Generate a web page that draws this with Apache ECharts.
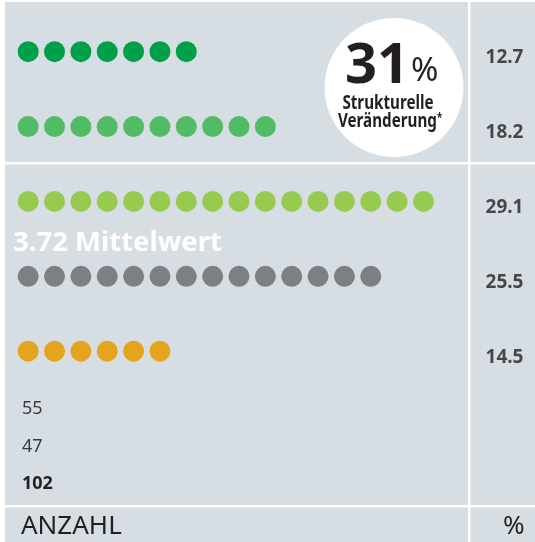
<!DOCTYPE html>
<html>
<head>
<meta charset="utf-8">
<script src="https://cdn.jsdelivr.net/npm/echarts@6/dist/echarts.min.js"></script>
<style>
  html, body { margin: 0; padding: 0; background: #fff; }
  #chart { width: 535px; height: 542px; }
</style>
</head>
<body>
<div id="chart"></div>
<script>
// dots per row and the share in percent
const dotCounts = [7, 10, 16, 14, 6]
const percents = ['12.7', '18.2', '29.1', '25.5', '14.5']
const rowColors = ['#00a04b', '#52bb66', '#97cb4f', '#7e7f83', '#e4a41d']
const anzahl = ['55', '47', '102']
const mittelwert = '3.72'
const strukturell = '31'

const FONT = '"Noto Sans", sans-serif'
const PANEL = '#d6dde3'
const TEXT = '#231f20'

const chart = echarts.init(document.getElementById('chart'))

const dotSeries = dotCounts.map((n, row) => ({
  type: 'scatter',
  xAxisIndex: 0,
  yAxisIndex: 0,
  symbolSize: 21,
  itemStyle: { color: rowColors[row], opacity: 1 },
  silent: true,
  data: Array.from({ length: n }, (_, i) => [i, row])
}))

const pctSeries = {
  type: 'scatter',
  xAxisIndex: 1,
  yAxisIndex: 1,
  symbolSize: 1,
  itemStyle: { color: 'transparent' },
  label: {
    show: true,
    position: 'inside',
    offset: [2, 6],
    formatter: (p) => percents[p.dataIndex],
    fontFamily: FONT,
    fontWeight: 'bold',
    fontSize: 19,
    color: TEXT
  },
  data: percents.map((_, row) => [0.5, row])
}

const panels = [
  [5, 2, 463, 160], [470.5, 2, 65, 160],
  [5, 164.5, 463, 340.5], [470.5, 164.5, 65, 340.5],
  [5, 507.5, 463, 40], [470.5, 507.5, 65, 40]
].map(([x, y, w, h]) => ({
  type: 'rect', z: -10, silent: true,
  shape: { x, y, width: w, height: h },
  style: { fill: PANEL }
}))

// helper for plain text placed by its left/middle point
const txt = (x, y, text, size, extra) => ({
  type: 'text', x, y, z: 6, silent: true,
  style: Object.assign({
    text, fontFamily: FONT, fontSize: size, fill: TEXT,
    verticalAlign: 'middle'
  }, extra || {})
})

const counts = anzahl.map((t, i) => txt(22, 409 + i * 37.5, t, 18, {
  fontWeight: i === 2 ? 'bold' : 'normal',
  fill: i === 2 ? TEXT : '#3a3a3c'
}))

// the circle's caption is set in a condensed cut
const sub1 = txt(388, 104, 'Strukturelle', 19, { fontWeight: 'bold', align: 'center' })
sub1.scaleX = 0.8
const sub2 = txt(390, 122, '{a|Veränderung}{s|*}', 19, {
  fontWeight: 'bold', align: 'center',
  rich: {
    a: { fontFamily: FONT, fontWeight: 'bold', fontSize: 19, fill: TEXT },
    s: { fontFamily: FONT, fontWeight: 'bold', fontSize: 12, fill: TEXT, verticalAlign: 'top', padding: [0, 0, 6, 0] }
  }
})
sub2.scaleX = 0.8

chart.setOption({
  animation: false,
  grid: [
    { left: 15, width: 448, top: 51.7, height: 299.5 },
    { left: 470, width: 65, top: 51.7, height: 299.5 }
  ],
  xAxis: [
    { gridIndex: 0, type: 'value', min: -0.5, max: 16.5, show: false },
    { gridIndex: 1, type: 'value', min: 0, max: 1, show: false }
  ],
  yAxis: [
    { gridIndex: 0, type: 'value', min: 0, max: 4, inverse: true, show: false },
    { gridIndex: 1, type: 'value', min: 0, max: 4, inverse: true, show: false }
  ],
  series: [...dotSeries, pctSeries],
  graphic: [
    ...panels,
    {
      type: 'circle', silent: true, z: 5,
      shape: { cx: 394, cy: 87.5, r: 69.5 },
      style: { fill: '#fff' }
    },
    txt(409, 67, strukturell, 56, { fontWeight: 'bold', align: 'right' }),
    txt(411, 72, '%', 33, {}),
    sub1,
    sub2,
    txt(13, 243, mittelwert + ' Mittelwert', 27.5, { fontWeight: 'bold', fill: '#fff' }),
    ...counts,
    txt(21, 527, 'ANZAHL', 26, {}),
    txt(503, 527, '%', 26, {})
  ]
})
</script>
</body>
</html>
